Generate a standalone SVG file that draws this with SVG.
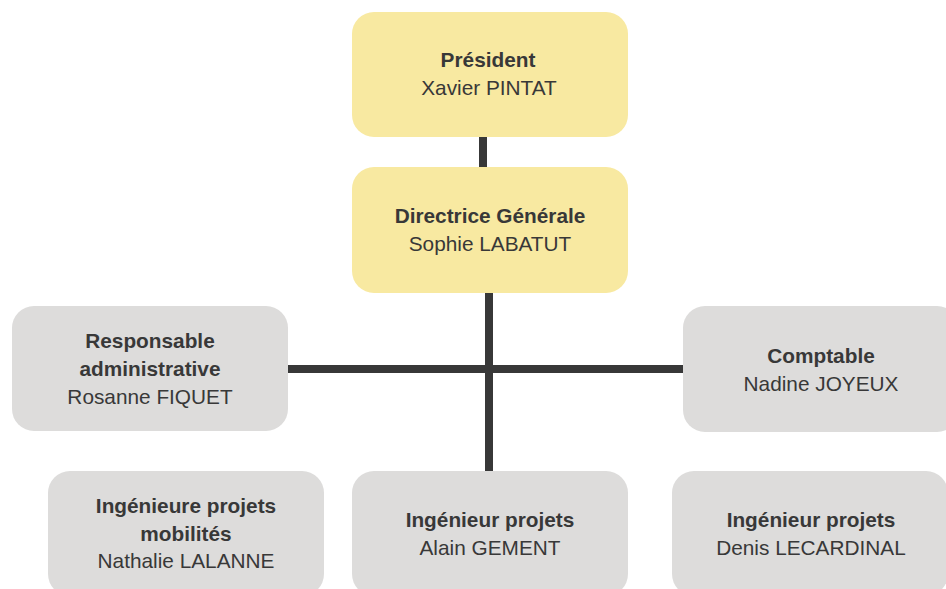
<svg xmlns="http://www.w3.org/2000/svg" width="946" height="589" viewBox="0 0 946 589">
<style>
.y{fill:#f8e9a1}
.g{fill:#dddcdb}
text{font-family:"Liberation Sans",Arial,sans-serif;font-size:20.8px;fill:#383838;text-anchor:middle}
.b{font-weight:bold}
.c{stroke:#383838;stroke-width:8;fill:none}
</style>
<rect width="946" height="589" fill="#ffffff"/>
<g id="connectors">
<line class="c" x1="483" y1="136" x2="483" y2="168"/>
<line class="c" x1="489" y1="292" x2="489" y2="475"/>
<line class="c" x1="288" y1="369" x2="686" y2="369"/>
</g>
<g id="president">
<rect class="y" x="352" y="12" width="276" height="125" rx="22"/>
<text class="b" x="488" y="67">Président</text>
<text x="489" y="95">Xavier PINTAT</text>
</g>
<g id="directrice">
<rect class="y" x="352" y="167" width="276" height="126" rx="22"/>
<text class="b" x="490" y="223">Directrice Générale</text>
<text x="490" y="251">Sophie LABATUT</text>
</g>
<g id="responsable">
<rect class="g" x="12" y="306" width="276" height="125" rx="22"/>
<text class="b" x="150" y="348">Responsable</text>
<text class="b" x="150" y="376">administrative</text>
<text x="150" y="404">Rosanne FIQUET</text>
</g>
<g id="comptable">
<rect class="g" x="683" y="306" width="276" height="126" rx="22"/>
<text class="b" x="821" y="363">Comptable</text>
<text x="821" y="391">Nadine JOYEUX</text>
</g>
<g id="nathalie">
<rect class="g" x="48" y="471" width="276" height="125" rx="22"/>
<text class="b" x="186" y="513">Ingénieure projets</text>
<text class="b" x="186" y="541">mobilités</text>
<text x="186" y="568">Nathalie LALANNE</text>
</g>
<g id="alain">
<rect class="g" x="352" y="471" width="276" height="125" rx="22"/>
<text class="b" x="490" y="527">Ingénieur projets</text>
<text x="490" y="555">Alain GEMENT</text>
</g>
<g id="denis">
<rect class="g" x="672" y="471" width="276" height="125" rx="22"/>
<text class="b" x="811" y="527">Ingénieur projets</text>
<text x="811" y="555">Denis LECARDINAL</text>
</g>
</svg>
